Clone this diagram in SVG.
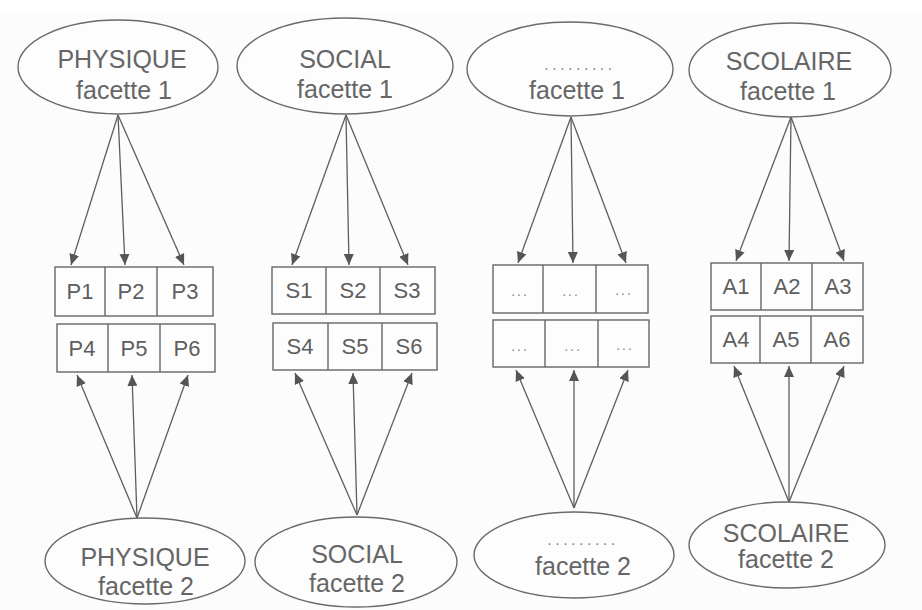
<svg xmlns="http://www.w3.org/2000/svg" width="922" height="610" viewBox="0 0 922 610">
<style>
.bg{fill:#fcfcfc}
.ell{fill:#fdfdfd;stroke:#6a6a6a;stroke-width:1.4}
.box{fill:#fdfdfd;stroke:#666;stroke-width:1.4}
.div{stroke:#666;stroke-width:1.4}
.t{font-family:"Liberation Sans",Arial,sans-serif;font-size:25px;fill:#666;text-anchor:middle}
.c{font-family:"Liberation Sans",Arial,sans-serif;font-size:22px;fill:#5e5e5e;text-anchor:middle}
.d{font-family:"Liberation Sans",Arial,sans-serif;font-size:14px;fill:#888;text-anchor:middle;letter-spacing:2px}
.dd{font-family:"Liberation Sans",Arial,sans-serif;font-size:16px;fill:#888;text-anchor:middle;letter-spacing:3.5px}
.a{stroke:#5e5e5e;stroke-width:1.3;fill:none;marker-end:url(#ah)}
</style>
<defs>
<marker id="ah" markerUnits="userSpaceOnUse" markerWidth="12" markerHeight="10" refX="11" refY="5" orient="auto">
<path d="M0,0 L11,5 L0,10 Z" fill="#555"/>
</marker>
</defs>
<rect class="bg" x="0" y="0" width="922" height="610"/>
<rect x="0" y="0" width="922" height="12" fill="#ffffff"/>

<g id="connectors">
<line class="a" x1="118" y1="115" x2="71" y2="265"/>
<line class="a" x1="118" y1="115" x2="125" y2="265"/>
<line class="a" x1="118" y1="115" x2="184" y2="265"/>
<line class="a" x1="346" y1="115" x2="292" y2="265"/>
<line class="a" x1="346" y1="115" x2="349" y2="265"/>
<line class="a" x1="346" y1="115" x2="408" y2="265"/>
<line class="a" x1="571" y1="117" x2="518" y2="263"/>
<line class="a" x1="571" y1="117" x2="573" y2="263"/>
<line class="a" x1="571" y1="117" x2="626" y2="263"/>
<line class="a" x1="791" y1="117" x2="736" y2="261"/>
<line class="a" x1="791" y1="117" x2="789" y2="261"/>
<line class="a" x1="791" y1="117" x2="844" y2="261"/>
<line class="a" x1="137" y1="518" x2="77" y2="375"/>
<line class="a" x1="137" y1="518" x2="132" y2="375"/>
<line class="a" x1="137" y1="518" x2="188" y2="375"/>
<line class="a" x1="357" y1="515" x2="295" y2="373"/>
<line class="a" x1="357" y1="515" x2="353" y2="373"/>
<line class="a" x1="357" y1="515" x2="412" y2="373"/>
<line class="a" x1="574" y1="508" x2="516" y2="370"/>
<line class="a" x1="574" y1="508" x2="574" y2="370"/>
<line class="a" x1="574" y1="508" x2="628" y2="370"/>
<line class="a" x1="789" y1="502" x2="734" y2="366"/>
<line class="a" x1="789" y1="502" x2="789" y2="366"/>
<line class="a" x1="789" y1="502" x2="844" y2="366"/>
</g>

<g id="physique1">
<ellipse class="ell" cx="118" cy="67" rx="100" ry="47"/>
<text class="t" x="122" y="68">PHYSIQUE</text>
<text class="t" x="124" y="99">facette 1</text>
</g>
<g id="social1">
<ellipse class="ell" cx="345" cy="66" rx="108" ry="48"/>
<text class="t" x="345" y="68">SOCIAL</text>
<text class="t" x="345" y="98">facette 1</text>
</g>
<g id="autre1">
<ellipse class="ell" cx="570" cy="69" rx="103" ry="47"/>
<text class="dd" x="580" y="70">.........</text>
<text class="t" x="577" y="99">facette 1</text>
</g>
<g id="scolaire1">
<ellipse class="ell" cx="790" cy="70" rx="101" ry="47"/>
<text class="t" x="789" y="70">SCOLAIRE</text>
<text class="t" x="788" y="100">facette 1</text>
</g>

<g id="P">
<rect class="box" x="55" y="267" width="158" height="49"/>
<line class="div" x1="105" y1="267" x2="105" y2="316"/>
<line class="div" x1="157" y1="267" x2="157" y2="316"/>
<text class="c" x="80" y="299">P1</text>
<text class="c" x="131" y="299">P2</text>
<text class="c" x="185" y="299">P3</text>
<rect class="box" x="57" y="324" width="158" height="48"/>
<line class="div" x1="108" y1="324" x2="108" y2="372"/>
<line class="div" x1="160" y1="324" x2="160" y2="372"/>
<text class="c" x="82" y="356">P4</text>
<text class="c" x="134" y="356">P5</text>
<text class="c" x="187" y="356">P6</text>
</g>
<g id="S">
<rect class="box" x="272" y="267" width="163" height="47"/>
<line class="div" x1="326" y1="267" x2="326" y2="314"/>
<line class="div" x1="380" y1="267" x2="380" y2="314"/>
<text class="c" x="299" y="298">S1</text>
<text class="c" x="353" y="298">S2</text>
<text class="c" x="407" y="298">S3</text>
<rect class="box" x="273" y="323" width="164" height="47"/>
<line class="div" x1="328" y1="323" x2="328" y2="370"/>
<line class="div" x1="382" y1="323" x2="382" y2="370"/>
<text class="c" x="300" y="354">S4</text>
<text class="c" x="355" y="354">S5</text>
<text class="c" x="409" y="354">S6</text>
</g>
<g id="X">
<rect class="box" x="493" y="265" width="155" height="48"/>
<line class="div" x1="543" y1="265" x2="543" y2="313"/>
<line class="div" x1="596" y1="265" x2="596" y2="313"/>
<text class="d" x="520" y="296">...</text>
<text class="d" x="571" y="296">...</text>
<text class="d" x="624" y="295">...</text>
<rect class="box" x="493" y="320" width="156" height="47"/>
<line class="div" x1="545" y1="320" x2="545" y2="367"/>
<line class="div" x1="598" y1="320" x2="598" y2="367"/>
<text class="d" x="520" y="351">...</text>
<text class="d" x="573" y="351">...</text>
<text class="d" x="625" y="350">...</text>
</g>
<g id="A">
<rect class="box" x="711" y="263" width="152" height="47"/>
<line class="div" x1="761" y1="263" x2="761" y2="310"/>
<line class="div" x1="812" y1="263" x2="812" y2="310"/>
<text class="c" x="736" y="294">A1</text>
<text class="c" x="787" y="294">A2</text>
<text class="c" x="838" y="294">A3</text>
<rect class="box" x="711" y="316" width="152" height="47"/>
<line class="div" x1="760" y1="316" x2="760" y2="363"/>
<line class="div" x1="811" y1="316" x2="811" y2="363"/>
<text class="c" x="736" y="347">A4</text>
<text class="c" x="786" y="347">A5</text>
<text class="c" x="837" y="347">A6</text>
</g>

<g id="physique2">
<ellipse class="ell" cx="145" cy="561" rx="100" ry="43"/>
<text class="t" x="145" y="566">PHYSIQUE</text>
<text class="t" x="146" y="595">facette 2</text>
</g>
<g id="social2">
<ellipse class="ell" cx="356" cy="562" rx="101" ry="45"/>
<text class="t" x="357" y="563">SOCIAL</text>
<text class="t" x="357" y="592">facette 2</text>
</g>
<g id="autre2">
<ellipse class="ell" cx="574" cy="555" rx="100" ry="43"/>
<text class="dd" x="583" y="545">.........</text>
<text class="t" x="583" y="575">facette 2</text>
</g>
<g id="scolaire2">
<ellipse class="ell" cx="787" cy="545" rx="98" ry="43"/>
<text class="t" x="786" y="542">SCOLAIRE</text>
<text class="t" x="786" y="568">facette 2</text>
</g>
</svg>
